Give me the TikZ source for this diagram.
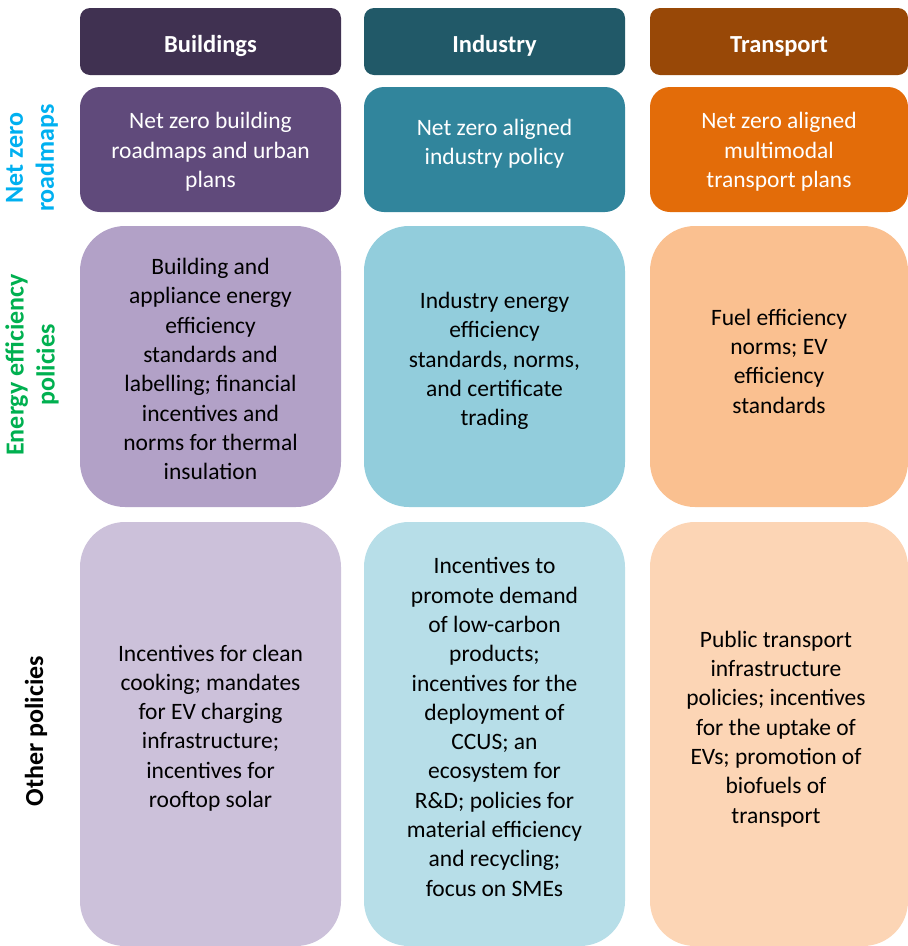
\documentclass[tikz,border=0pt]{standalone}
\usepackage{fontspec}
\setmainfont{Carlito}
\definecolor{hdB}{HTML}{403151}
\definecolor{hdI}{HTML}{215968}
\definecolor{hdT}{HTML}{984807}
\definecolor{aB}{HTML}{604A7B}
\definecolor{aI}{HTML}{31859C}
\definecolor{aT}{HTML}{E36C09}
\definecolor{bB}{HTML}{B2A1C7}
\definecolor{bI}{HTML}{92CDDC}
\definecolor{bT}{HTML}{FAC090}
\definecolor{cB}{HTML}{CCC1DA}
\definecolor{cI}{HTML}{B7DEE8}
\definecolor{cT}{HTML}{FCD5B5}
\definecolor{lblcyan}{HTML}{00B0F0}
\definecolor{lblgreen}{HTML}{00B050}
\begin{document}
\begin{tikzpicture}[x=1pt,y=-1pt,
  hdtext/.style={text=white,font=\fontsize{24.5}{29}\selectfont\bfseries,inner sep=0pt,anchor=base},
  wtext/.style={text=white,align=center,font=\fontsize{23.5}{29.3}\selectfont,inner sep=0pt},
  btext/.style={text=black,align=center,font=\fontsize{23.5}{29.3}\selectfont,inner sep=0pt},
  rowlbl/.style={rotate=90,align=center,font=\fontsize{26}{31}\selectfont\bfseries,inner sep=0pt}]
\useasboundingbox (0,0) rectangle (908,946);
% header row
\fill[hdB,rounded corners=10pt] (80,8) rectangle (341,75);
\fill[hdI,rounded corners=10pt] (364,8) rectangle (625,75);
\fill[hdT,rounded corners=10pt] (650,8) rectangle (908,75);
\node[hdtext] (hB) at (210.5,52) {Buildings};
\node[hdtext] (hI) at (494.5,52) {Industry};
\node[hdtext] (hT) at (779,52) {Transport};
% row 1
\fill[aB,rounded corners=20pt] (80,87) rectangle (341,212);
\fill[aI,rounded corners=20pt] (364,87) rectangle (625,212);
\fill[aT,rounded corners=20pt] (650,87) rectangle (908,212);
\node[wtext] (nB) at (210.5,152) {Net zero building\\roadmaps and urban\\plans};
\node[wtext] (nI) at (494.5,144) {Net zero aligned\\industry policy};
\node[wtext] (nT) at (779,152) {Net zero aligned\\multimodal\\transport plans};
% row 2
\fill[bB,rounded corners=45pt] (80,226) rectangle (341,507);
\fill[bI,rounded corners=45pt] (364,226) rectangle (625,507);
\fill[bT,rounded corners=45pt] (650,226) rectangle (908,507);
\node[btext] (eB) at (210.5,369) {Building and\\appliance energy\\efficiency\\standards and\\labelling; financial\\incentives and\\norms for thermal\\insulation};
\node[btext] (eI) at (494.5,361) {Industry energy\\efficiency\\standards, norms,\\and certificate\\trading};
\node[btext] (eT) at (779,361) {Fuel efficiency\\norms; EV\\efficiency\\standards};
% row 3
\fill[cB,rounded corners=45pt] (80,522) rectangle (341,946);
\fill[cI,rounded corners=45pt] (364,522) rectangle (625,946);
\fill[cT,rounded corners=45pt] (650,522) rectangle (908,946);
\node[btext] (oB) at (210.5,728) {Incentives for clean\\cooking; mandates\\for EV charging\\infrastructure;\\incentives for\\rooftop solar};
\node[btext] (oI) at (494.5,727) {Incentives to\\promote demand\\of low-carbon\\products;\\incentives for the\\deployment of\\CCUS; an\\ecosystem for\\R\&D; policies for\\material efficiency\\and recycling;\\focus on SMEs};
\node[btext] (oT) at (776,729) {Public transport\\infrastructure\\policies; incentives\\for the uptake of\\EVs; promotion of\\biofuels of\\transport};
% row labels
\node[rowlbl,text=lblcyan] (l1) at (32,158) {Net zero\\roadmaps};
\node[rowlbl,text=lblgreen] (l2) at (32,365) {Energy efficiency\\policies};
\node[rowlbl,text=black] (l3) at (36,731) {Other policies};
\end{tikzpicture}
\end{document}
